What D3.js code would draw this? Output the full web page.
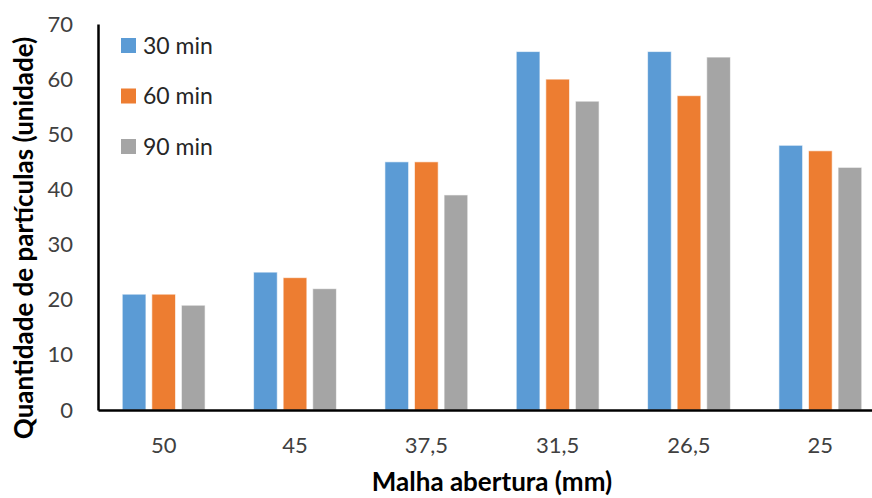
<!DOCTYPE html>
<html>
<head>
<meta charset="utf-8">
<script src="https://cdn.jsdelivr.net/npm/d3@7"></script>
<style>
  html, body { margin: 0; padding: 0; background: #fff; }
  svg { display: block; font-family: Lato, "Open Sans", sans-serif; }
</style>
</head>
<body>
<svg id="chart" width="872" height="498"></svg>
<script>
// Mesh openings (mm) along the x axis
const categories = ["50", "45", "37,5", "31,5", "26,5", "25"];
// Particle counts per sieving time
const series = ["30 min", "60 min", "90 min"];
const values30 = [21, 25, 45, 65, 65, 48];
const values60 = [21, 24, 45, 60, 57, 47];
const values90 = [19, 22, 39, 56, 64, 44];
const yTicks = [0, 10, 20, 30, 40, 50, 60, 70];
const colors = ["#5B9BD5", "#ED7D31", "#A5A5A5"];

const allValues = [values30, values60, values90];

const svg = d3.select("#chart");
const margin = { left: 98, top: 24, bottom: 410 };
const plotRight = 886;

const x = d3.scaleBand().domain(categories).range([margin.left, plotRight]).paddingInner(0).paddingOuter(0);
const x1 = d3.scaleBand().domain(series).range([0, x.bandwidth()]).paddingInner(0.2).paddingOuter(0.82);
const y = d3.scaleLinear().domain([0, 70]).range([margin.bottom, margin.top]);

// Bars
series.forEach((s, si) => {
  svg.append("g")
    .selectAll("rect")
    .data(categories.map((c, i) => ({ c, v: allValues[si][i] })))
    .join("rect")
    .attr("x", d => x(d.c) + x1(s))
    .attr("y", d => y(d.v))
    .attr("width", x1.bandwidth())
    .attr("height", d => y(0) - y(d.v))
    .attr("fill", colors[si])
    .attr("stroke", "#ffffff")
    .attr("stroke-opacity", 0.6)
    .attr("stroke-width", 1);
});

// Y axis
const yAxis = svg.append("g")
  .attr("transform", `translate(${margin.left},0)`)
  .call(d3.axisLeft(y).tickValues(yTicks).tickSize(0).tickPadding(25));
yAxis.select(".domain").attr("stroke", "#000").attr("stroke-width", 2.5);
yAxis.selectAll("text").attr("font-size", 22).attr("fill", "#404040")
  .attr("font-family", "Lato, 'Open Sans', sans-serif");

// X axis
const xAxis = svg.append("g")
  .attr("transform", `translate(0,${margin.bottom})`)
  .call(d3.axisBottom(x).tickSize(0).tickPadding(27));
xAxis.select(".domain").attr("stroke", "#000").attr("stroke-width", 2.5);
xAxis.selectAll("text").attr("font-size", 22).attr("fill", "#404040")
  .attr("font-family", "Lato, 'Open Sans', sans-serif");

// Axis titles
svg.append("text")
  .attr("transform", "translate(33,238) rotate(-90)")
  .attr("text-anchor", "middle")
  .attr("font-size", 26)
  .attr("font-weight", "bold")
  .attr("fill", "#000")
  .text("Quantidade de partículas (unidade)");

svg.append("text")
  .attr("x", 492)
  .attr("y", 491)
  .attr("text-anchor", "middle")
  .attr("font-size", 26)
  .attr("font-weight", "bold")
  .attr("fill", "#000")
  .text("Malha abertura (mm)");

// Legend
const legend = svg.append("g").attr("transform", "translate(121,38)");
series.forEach((s, i) => {
  const g = legend.append("g").attr("transform", `translate(0,${i * 50.5})`);
  g.append("rect").attr("width", 15).attr("height", 15).attr("fill", colors[i]);
  g.append("text").attr("x", 22).attr("y", 7.5).attr("dy", "0.36em")
    .attr("font-size", 23).attr("fill", "#262626").text(s);
});
</script>
</body>
</html>
